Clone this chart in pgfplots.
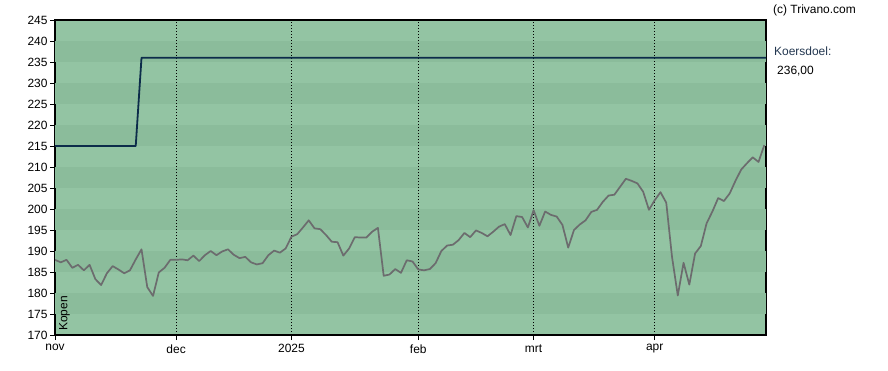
\documentclass[border=0pt]{standalone}
\usepackage{pgfplots}
\pgfplotsset{compat=1.18}
\usepackage{pgfplotstable}
\usepackage{fontspec}
\setmainfont{Liberation Sans}
\definecolor{bandlight}{RGB}{147,196,163}
\definecolor{banddark}{RGB}{139,188,155}
\definecolor{priceline}{RGB}{108,108,110}
\definecolor{targetline}{RGB}{12,44,74}
\definecolor{koers}{RGB}{35,55,80}

\pgfplotstableread{
i price
0 187.9
1 187.3
2 187.9
3 186.0
4 186.7
5 185.4
6 186.7
7 183.3
8 181.9
9 184.7
10 186.4
11 185.6
12 184.7
13 185.4
14 188.0
15 190.4
16 181.4
17 179.3
18 184.9
19 186.0
20 187.9
21 187.9
22 188.0
23 187.8
24 188.9
25 187.6
26 189.0
27 190.0
28 189.0
29 189.9
30 190.4
31 189.1
32 188.3
33 188.6
34 187.3
35 186.8
36 187.1
37 189.0
38 190.1
39 189.6
40 190.6
41 193.4
42 194.0
43 195.6
44 197.3
45 195.4
46 195.2
47 193.8
48 192.2
49 192.1
50 188.9
51 190.6
52 193.3
53 193.2
54 193.2
55 194.6
56 195.5
57 184.1
58 184.4
59 185.7
60 184.8
61 187.8
62 187.5
63 185.6
64 185.4
65 185.7
66 187.1
67 190.0
68 191.3
69 191.5
70 192.6
71 194.3
72 193.3
73 194.9
74 194.3
75 193.5
76 194.6
77 195.8
78 196.4
79 193.8
80 198.3
81 198.1
82 195.6
83 199.7
84 196.0
85 199.4
86 198.6
87 198.2
88 196.2
89 190.8
90 195.0
91 196.3
92 197.3
93 199.3
94 199.8
95 201.7
96 203.2
97 203.4
98 205.3
99 207.2
100 206.7
101 206.1
102 204.1
103 199.8
104 202.1
105 204.0
106 201.5
107 188.6
108 179.4
109 187.2
110 182.0
111 189.4
112 191.2
113 196.6
114 199.4
115 202.6
116 201.9
117 203.7
118 206.7
119 209.4
120 210.9
121 212.3
122 211.2
123 215.2
}\pricetable

\pgfplotstableread{
i target
0 215
14 215
15 236
123.3 236
}\targettable

\begin{document}
\begin{tikzpicture}[x=1bp,y=1bp]
\useasboundingbox (0,0) rectangle (888,370);
\begin{axis}[
  at={(55bp,35bp)}, anchor=south west,
  scale only axis, width=711bp, height=315bp,
  xmin=0, xmax=123.3, ymin=170, ymax=245,
  axis background/.style={fill=bandlight},
  xtick={0,21,41,63,83,104},
  xticklabels={nov,dec,2025,feb,mrt,apr},
  ytick={170,175,...,245},
  xtick pos=bottom, ytick pos=left,
  tick align=outside,
  major tick length=5bp,
  tick style={black, line width=0.8bp},
  axis line style={black, line width=1.2bp},
  ticklabel style={font=\fontsize{12}{14}\selectfont, text=black},
  /pgf/number format/assume math mode=true,
  yticklabel style={xshift=1bp},
  xticklabel style={yshift=-1bp},
  clip=true,
]
\pgfplotsinvokeforeach{175,185,195,205,215,225,235}{
  \fill[banddark] (axis cs:0,#1) rectangle (axis cs:123.3,#1+5);
}
\pgfplotsinvokeforeach{21,41,63,83,104}{
  \draw[black, line width=0.9bp, dash pattern=on 0.9bp off 2.1bp] (axis cs:#1,170) -- (axis cs:#1,245);
}
\addplot[targetline, line width=1.8bp, line join=round] table[x=i, y=target] {\targettable};
\addplot[priceline, line width=1.7bp, line join=round] table[x=i, y=price] {\pricetable};
\node[rotate=90, anchor=north west, font=\fontsize{12}{14}\selectfont, inner sep=0pt] at ([xshift=4bp, yshift=4bp]axis cs:0,170) {Kopen};
\end{axis}
\node[anchor=base west, font=\fontsize{12}{14}\selectfont, inner sep=0pt] at (773,357) {(c) Trivano.com};
\node[anchor=base west, font=\fontsize{12}{14}\selectfont, inner sep=0pt, text=koers] at (774,315) {Koersdoel:};
\node[anchor=base west, font=\fontsize{12}{14}\selectfont, inner sep=0pt] at (777,296) {236,00};
\end{tikzpicture}
\end{document}
